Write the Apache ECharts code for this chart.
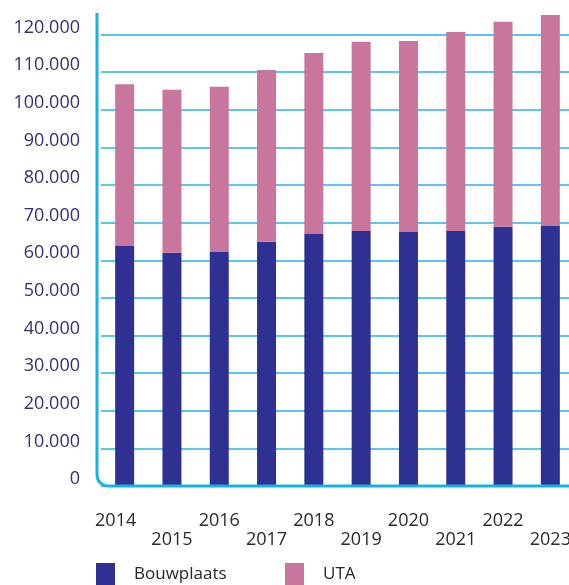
<!DOCTYPE html>
<html>
<head>
<meta charset="utf-8">
<style>
  html, body { margin: 0; padding: 0; background: #ffffff; overflow: hidden; }
  #chart { width: 580px; height: 585px; }
</style>
<script src="https://cdn.jsdelivr.net/npm/echarts@6/dist/echarts.min.js"></script>
</head>
<body>
<div id="chart"></div>
<script>
// Employees per year, split into construction site (Bouwplaats) and office staff (UTA)
const years = ['2014', '2015', '2016', '2017', '2018', '2019', '2020', '2021', '2022', '2023'];
const bouwplaats = [63800, 62000, 62200, 64900, 67000, 67800, 67500, 67800, 68900, 69100];
const uta = [43000, 43300, 43900, 45700, 48100, 50300, 50800, 52900, 54500, 56100];
const yTickStep = 10000;
const yAxisMax = 126000;   // axis runs a little past the last labelled tick (120.000)

// the canvas is a bit wider than the page so the last column runs off the right edge
const W = 580, H = 585;
const gridLeft = 101, gridTop = 12, gridBottom = 99, gridWidth = 473;
const axisColor = '#16b2e6';
const axisX = gridLeft - 4;          // vertical axis sits a little left of the first band
const axisY = H - gridBottom;        // baseline of the plot
const cornerR = 11;

function fmtThousands(v) {
  if (v === 0) return '0';
  const s = String(Math.round(v));
  return s.replace(/\B(?=(\d{3})+(?!\d))/g, '.');
}

const chart = echarts.init(document.getElementById('chart'), null, { renderer: 'canvas' });

const axisStyle = { stroke: axisColor, lineWidth: 3, fill: null };

chart.setOption({
  animation: false,
  backgroundColor: '#ffffff',
  grid: { left: gridLeft, top: gridTop, bottom: gridBottom, width: gridWidth, containLabel: false },
  legend: [
    {
      data: ['Bouwplaats'], left: 96, top: 563, orient: 'horizontal', padding: 0,
      itemWidth: 19, itemHeight: 22, icon: 'rect', selectedMode: false,
      textStyle: { fontFamily: 'Open Sans', fontSize: 17, color: '#262626', padding: [0, 0, 0, 14] }
    },
    {
      data: ['UTA'], left: 285, top: 563, orient: 'horizontal', padding: 0,
      itemWidth: 19, itemHeight: 22, icon: 'rect', selectedMode: false,
      textStyle: { fontFamily: 'Open Sans', fontSize: 17, color: '#262626', padding: [0, 0, 0, 14] }
    }
  ],
  xAxis: {
    type: 'category',
    data: years.map((y, i) => i === 0 ? { value: y, textStyle: { padding: [0, 18, 0, 0] } } : y),
    boundaryGap: true,
    axisLine: { show: false },
    axisTick: { show: false },
    axisLabel: {
      interval: 0,
      margin: 25,
      fontFamily: 'Open Sans',
      fontSize: 18,
      lineHeight: 19,
      color: '#2a2a2a',
      formatter: (v, i) => (i % 2 === 1 ? '\n' + v : v)
    }
  },
  yAxis: {
    type: 'value',
    min: 0,
    max: yAxisMax,
    interval: yTickStep,
    axisLine: { show: false },
    axisTick: { show: false },
    axisLabel: {
      margin: 21,
      showMaxLabel: false,
      fontFamily: 'Open Sans',
      fontSize: 18,
      lineHeight: 14,
      color: '#3a2c74',
      verticalAlign: 'bottom',
      formatter: fmtThousands
    },
    splitLine: { show: true, showMaxLine: false, lineStyle: { color: '#25b5e8', width: 1.5 } }
  },
  series: [
    {
      name: 'Bouwplaats', type: 'bar', stack: 'total', data: bouwplaats,
      barWidth: 19, itemStyle: { color: '#2e3192' }
    },
    {
      name: 'UTA', type: 'bar', stack: 'total', data: uta,
      barWidth: 19, itemStyle: { color: '#c8769d' }
    }
  ],
  // L-shaped axis frame with a rounded bottom-left corner
  graphic: [
    {
      type: 'line', z: 100,
      shape: { x1: axisX, y1: 13, x2: axisX, y2: axisY - cornerR },
      style: axisStyle
    },
    {
      type: 'arc', z: 100,
      shape: { cx: axisX + cornerR, cy: axisY - cornerR, r: cornerR, startAngle: Math.PI / 2, endAngle: Math.PI, clockwise: true },
      style: axisStyle
    },
    {
      type: 'line', z: 100,
      shape: { x1: axisX + cornerR, y1: axisY, x2: W, y2: axisY },
      style: axisStyle
    }
  ]
});
</script>
</body>
</html>
